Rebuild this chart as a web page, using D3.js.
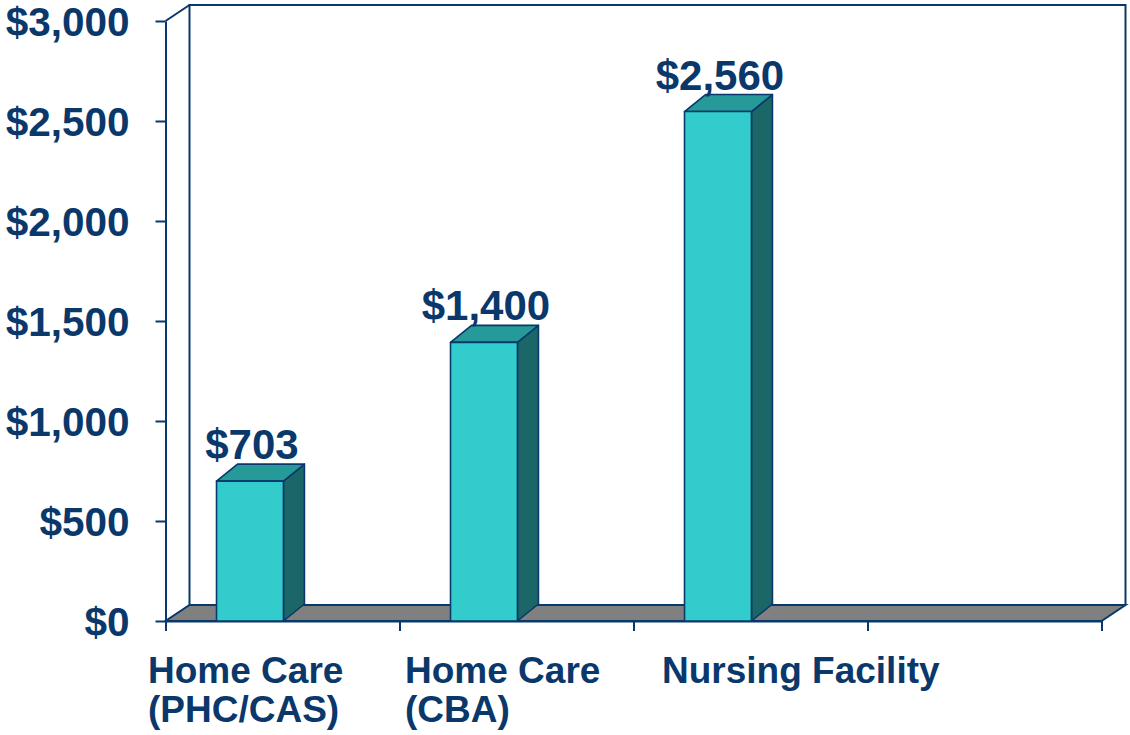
<!DOCTYPE html>
<html>
<head>
<meta charset="utf-8">
<script src="https://cdn.jsdelivr.net/npm/d3@7/dist/d3.min.js"></script>
<style>
  html, body { margin: 0; padding: 0; background: #ffffff; }
  svg { display: block; }
  text { font-family: "Liberation Sans", Arial, sans-serif; font-weight: bold; fill: #0a386b; }
</style>
</head>
<body>
<svg id="chart" width="1130" height="735"></svg>
<script>
// ---- data ----
const categories = ["Home Care\n(PHC/CAS)", "Home Care\n(CBA)", "Nursing Facility", ""];
const values = [703, 1400, 2560, null];
const valueLabels = ["$703", "$1,400", "$2,560", ""];
const yTicks = [0, 500, 1000, 1500, 2000, 2500, 3000];
const yTickLabels = ["$0", "$500", "$1,000", "$1,500", "$2,000", "$2,500", "$3,000"];

// ---- layout ----
const navy = "#0a386b";
const svg = d3.select("#chart");
const x0 = 165.5, x1 = 1101.5, yBase = 621, yTop = 21;
const wallDx = 24, wallDy = 16;
const barDx = 21, barDy = 17;

const y = d3.scaleLinear().domain([0, 3000]).range([yBase, yTop]);
// bars sit slightly behind the front plane, so they project a touch shorter
const yBar = d3.scaleLinear().domain([0, 3000]).range([yBase, yTop + 3]);
const xLin = d3.scaleLinear().domain([0, categories.length]).range([x0, x1]);
const bw = xLin(1) - xLin(0);

// back wall
const wall = svg.append("g");
wall.append("path")
  .attr("d", `M${x0 + wallDx},${yBase - wallDy} V${yTop - wallDy} H${x1 + wallDx} V${yBase - wallDy}`)
  .attr("fill", "none").attr("stroke", navy).attr("stroke-width", 2);
wall.append("line")
  .attr("x1", x0).attr("y1", yTop).attr("x2", x0 + wallDx).attr("y2", yTop - wallDy)
  .attr("stroke", navy).attr("stroke-width", 2);

// floor
svg.append("path")
  .attr("d", `M${x0},${yBase} L${x1},${yBase} L${x1 + wallDx},${yBase - wallDy} L${x0 + wallDx},${yBase - wallDy} Z`)
  .attr("fill", "#808080").attr("stroke", navy).attr("stroke-width", 2);

// y axis
const yAxis = d3.axisLeft(y).tickValues(yTicks)
  .tickFormat((d, i) => yTickLabels[i]).tickSize(10).tickSizeOuter(0).tickPadding(26);
const gy = svg.append("g").attr("transform", `translate(${x0},0)`).call(yAxis);
gy.selectAll("path, line").attr("stroke", navy).attr("stroke-width", 2);
gy.selectAll("text").attr("font-size", 40.5).attr("fill", navy)
  .style("font-family", "'Liberation Sans', Arial, sans-serif").style("font-weight", "bold")
  .attr("dy", "0.36em");

// x axis (ticks at category boundaries)
const xAxis = d3.axisBottom(xLin).tickValues(d3.range(categories.length + 1))
  .tickFormat("").tickSize(10).tickSizeOuter(0);
const gx = svg.append("g").attr("transform", `translate(0,${yBase})`).call(xAxis);
gx.selectAll("path, line").attr("stroke", navy).attr("stroke-width", 2);

// bars
const barOff = bw * 0.218, barW = bw * 0.286;
const bars = svg.append("g");
values.forEach((v, i) => {
  if (v == null) return;
  const bx = xLin(i) + barOff, by = yBar(v), bx2 = bx + barW;
  const g = bars.append("g").attr("stroke", navy).attr("stroke-width", 1.6).attr("stroke-linejoin", "round");
  // side
  g.append("path")
    .attr("d", `M${bx2},${yBase} L${bx2},${by} L${bx2 + barDx},${by - barDy} L${bx2 + barDx},${yBase - barDy} Z`)
    .attr("fill", "#1b6666");
  // top
  g.append("path")
    .attr("d", `M${bx},${by} L${bx + barDx},${by - barDy} L${bx2 + barDx},${by - barDy} L${bx2},${by} Z`)
    .attr("fill", "#269999");
  // front
  g.append("rect").attr("x", bx).attr("y", by).attr("width", barW).attr("height", yBase - by)
    .attr("fill", "#33cccc");
  // value label
  svg.append("text")
    .attr("x", bx + barW / 2 + 2).attr("y", by - 22)
    .attr("text-anchor", "middle").attr("font-size", 42)
    .text(valueLabels[i]);
});

// category labels
const labelX = d3.scaleLinear().domain([0, 2]).range([148, 662]);
categories.forEach((c, i) => {
  if (!c) return;
  const t = svg.append("text").attr("x", labelX(i)).attr("y", 683).attr("font-size", 37);
  c.split("\n").forEach((line, j) => {
    t.append("tspan").attr("x", labelX(i)).attr("dy", j === 0 ? 0 : 39).text(line);
  });
});
</script>
</body>
</html>
